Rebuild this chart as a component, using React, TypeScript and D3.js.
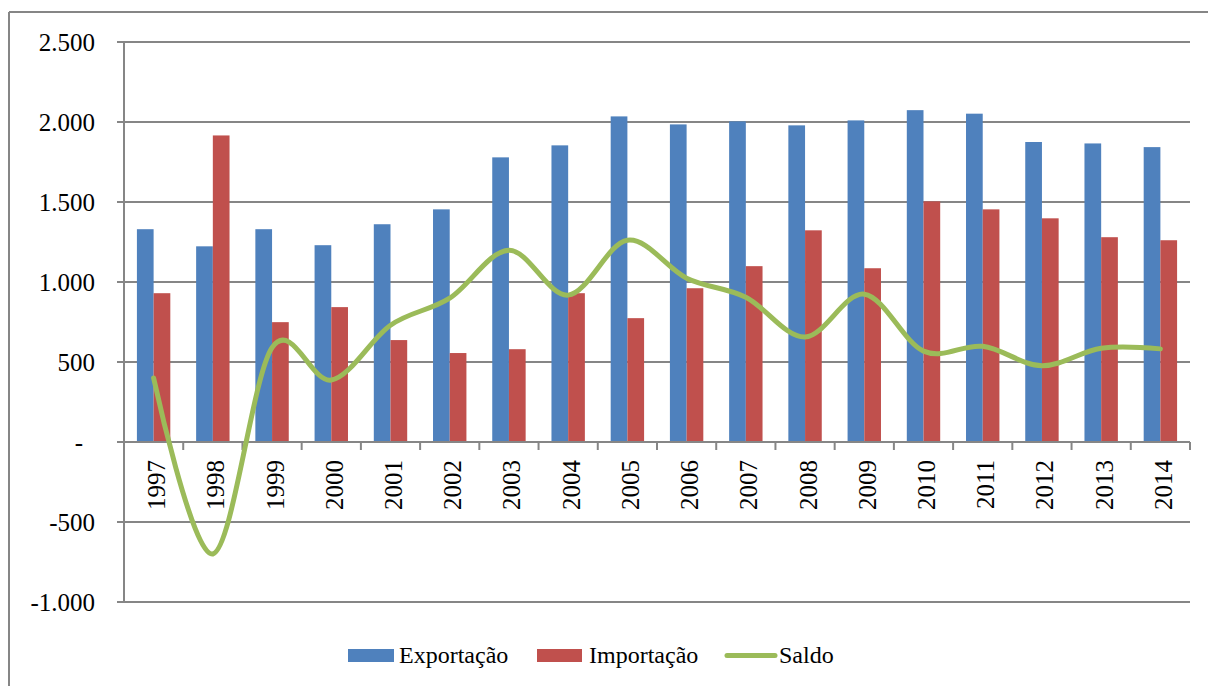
import React from 'react';
import * as d3 from 'd3';

const years = ['1997','1998','1999','2000','2001','2002','2003','2004','2005','2006','2007','2008','2009','2010','2011','2012','2013','2014'];
const exportacao = [1330,1223,1330,1230,1361,1454,1779,1854,2035,1985,2004,1979,2010,2074,2052,1875,1866,1843];
const importacao = [930,1916,749,843,637,556,580,930,774,961,1099,1323,1086,1504,1454,1398,1280,1261];
const saldo = [400,-700,590,387,730,899,1199,918,1261,1024,905,656,924,568,598,477,586,582];
const yTicks = [2500,2000,1500,1000,500,0,-500,-1000];
const seriesNames = ['Exportação','Importação','Saldo'];
const colors = ['#4F81BD','#C0504D','#9BBB59'];

const W = 1208, H = 686;
const L = 124, R = 1190, T = 42, B = 602;
const FONT = "'Liberation Serif', 'Times New Roman', Times, serif";
const GRID = '#868686';

const locale = d3.formatLocale({ decimal: ',', thousands: '.', grouping: [3], currency: ['R$', ''], minus: '-' });
const fmt = (v: number) => (v === 0 ? '-' : locale.format(',')(v));

export default function App() {
  const y = d3.scaleLinear().domain([-1000, 2500]).range([B, T]);
  const x0 = d3.scaleBand().domain(years).range([L, R]).padding(0);
  const x1 = d3.scaleBand().domain(['e', 'i']).range([0, x0.bandwidth()]).paddingInner(0).paddingOuter(0.773);
  const line = d3.line<number>()
    .x((_, i) => (x0(years[i]) as number) + x0.bandwidth() / 2)
    .y(d => y(d))
    .curve(d3.curveCardinal.tension(0));
  const zero = y(0);
  return (
    <svg width={W} height={H} style={{ position: 'absolute', left: 0, top: 0, background: '#fff', fontFamily: FONT }}>
      <rect x={0} y={0} width={W} height={H} fill="#fff" />
      <line x1={9} y1={12} x2={W} y2={12} stroke={GRID} strokeWidth={2} />
      <line x1={9} y1={12} x2={9} y2={H} stroke={GRID} strokeWidth={2} />
      {yTicks.map(t => (
        <g key={t}>
          <line x1={L - 7} x2={R} y1={y(t)} y2={y(t)} stroke={GRID} strokeWidth={2} />
          <text x={t === 0 ? 83 : 95} y={y(t) + 9} textAnchor="end" fontSize={25} fill="#000" style={{ fontFamily: FONT }}>{fmt(t)}</text>
        </g>
      ))}
      <line x1={L} x2={L} y1={T} y2={B} stroke={GRID} strokeWidth={2} />
      {years.map((yr, i) => (
        <g key={yr}>
          <rect x={(x0(yr) as number) + (x1('e') as number)} width={x1.bandwidth()} y={y(exportacao[i])} height={zero - y(exportacao[i])} fill={colors[0]} />
          <rect x={(x0(yr) as number) + (x1('i') as number)} width={x1.bandwidth()} y={y(importacao[i])} height={zero - y(importacao[i])} fill={colors[1]} />
        </g>
      ))}
      <line x1={L} x2={R} y1={zero} y2={zero} stroke={GRID} strokeWidth={2} />
      {years.map((yr, i) => (
        <line key={'t' + yr} x1={(x0(yr) as number) + x0.bandwidth()} x2={(x0(yr) as number) + x0.bandwidth()} y1={zero} y2={zero + 8} stroke={GRID} strokeWidth={2} />
      ))}
      <path d={line(saldo) || ''} fill="none" stroke={colors[2]} strokeWidth={5} strokeLinecap="round" />
      {years.map(yr => {
        const cx = (x0(yr) as number) + x0.bandwidth() / 2 + 11.5;
        return (
          <text key={'l' + yr} transform={`translate(${cx},460) rotate(-90)`} textAnchor="end" fontSize={25} fill="#000" style={{ fontFamily: FONT }}>{yr}</text>
        );
      })}
      <g fontSize={24} style={{ fontFamily: FONT }}>
        <rect x={348} y={649} width={46} height={13} fill={colors[0]} />
        <text x={399} y={663} fill="#000">{seriesNames[0]}</text>
        <rect x={537} y={649} width={45} height={13} fill={colors[1]} />
        <text x={589} y={663} fill="#000">{seriesNames[1]}</text>
        <line x1={727} x2={775} y1={655.5} y2={655.5} stroke={colors[2]} strokeWidth={5} strokeLinecap="round" />
        <text x={779} y={663} fill="#000">{seriesNames[2]}</text>
      </g>
    </svg>
  );
}
